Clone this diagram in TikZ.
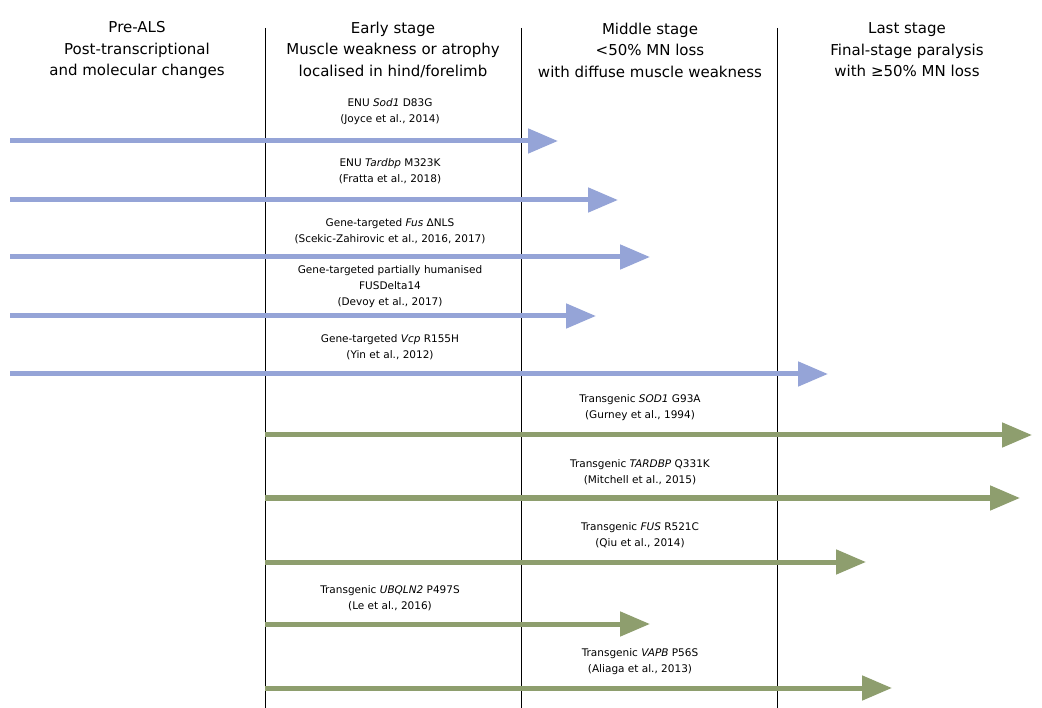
\documentclass[tikz,border=0pt]{standalone}
\usepackage{fontspec}
\setmainfont{DejaVu Sans}
\usetikzlibrary{arrows.meta}
\definecolor{blu}{HTML}{95A4D7}
\definecolor{grn}{HTML}{8E9E6E}
\begin{document}
\begin{tikzpicture}[x=1pt,y=-1pt,
 hdr/.style={align=center,font=\fontsize{15}{21.5}\selectfont},
 lab/.style={align=center,font=\fontsize{10.5}{16}\selectfont},
 ba/.style={draw=blu,line width=5pt,-{Triangle[length=30pt,width=24pt]}},
 ga/.style={draw=grn,line width=5pt,-{Triangle[length=30pt,width=24pt]}},
 vl/.style={draw=black,line width=0.6pt}]
\useasboundingbox (0,0) rectangle (1042,708);
\foreach \x/\n in {265/a,521/b,777/c}{\coordinate (t\n) at (\x,28); \coordinate (b\n) at (\x,708); \draw[vl] (t\n)--(b\n);}
\node[hdr] (h1) at (137,50) {Pre-ALS\\Post-transcriptional\\and molecular changes};
\node[hdr] (h2) at (393,50) {Early stage\\Muscle weakness or atrophy\\localised in hind/forelimb};
\node[hdr] (h3) at (650,50) {Middle stage\\<50\% MN loss\\with diffuse muscle weakness};
\node[hdr] (h4) at (907,50) {Last stage\\Final-stage paralysis\\with ≥50\% MN loss};
% blue
\foreach \i/\y/\t in {1/141/558,2/200/618,3/257/650,4/316/596,5/374/828}{
 \coordinate (s\i) at (10,\y); \coordinate (e\i) at (\t,\y); \draw[ba] (s\i)--(e\i);}
\node[lab] (l1) at (390,112) {ENU \textit{Sod1} D83G\\(Joyce et al., 2014)};
\node[lab] (l2) at (390,171) {ENU \textit{Tardbp} M323K\\(Fratta et al., 2018)};
\node[lab] (l3) at (390,231) {Gene-targeted \textit{Fus} ΔNLS\\(Scekic-Zahirovic et al., 2016, 2017)};
\node[lab] (l4) at (390,287) {Gene-targeted partially humanised\\FUSDelta14\\(Devoy et al., 2017)};
\node[lab] (l5) at (390,347) {Gene-targeted \textit{Vcp} R155H\\(Yin et al., 2012)};
% green
\foreach \i/\y/\t in {6/435/1032,7/498/1020,8/562/866,9/624/650,10/688/892}{
 \coordinate (s\i) at (265,\y); \coordinate (e\i) at (\t,\y); \draw[ga] (s\i)--(e\i);}
\node[lab] (l6) at (640,408) {Transgenic \textit{SOD1} G93A\\(Gurney et al., 1994)};
\node[lab] (l7) at (640,472) {Transgenic \textit{TARDBP} Q331K\\(Mitchell et al., 2015)};
\node[lab] (l8) at (640,535) {Transgenic \textit{FUS} R521C\\(Qiu et al., 2014)};
\node[lab] (l9) at (390,598) {Transgenic \textit{UBQLN2} P497S\\(Le et al., 2016)};
\node[lab] (l10) at (640,662) {Transgenic \textit{VAPB} P56S\\(Aliaga et al., 2013)};
\end{tikzpicture}
\end{document}
